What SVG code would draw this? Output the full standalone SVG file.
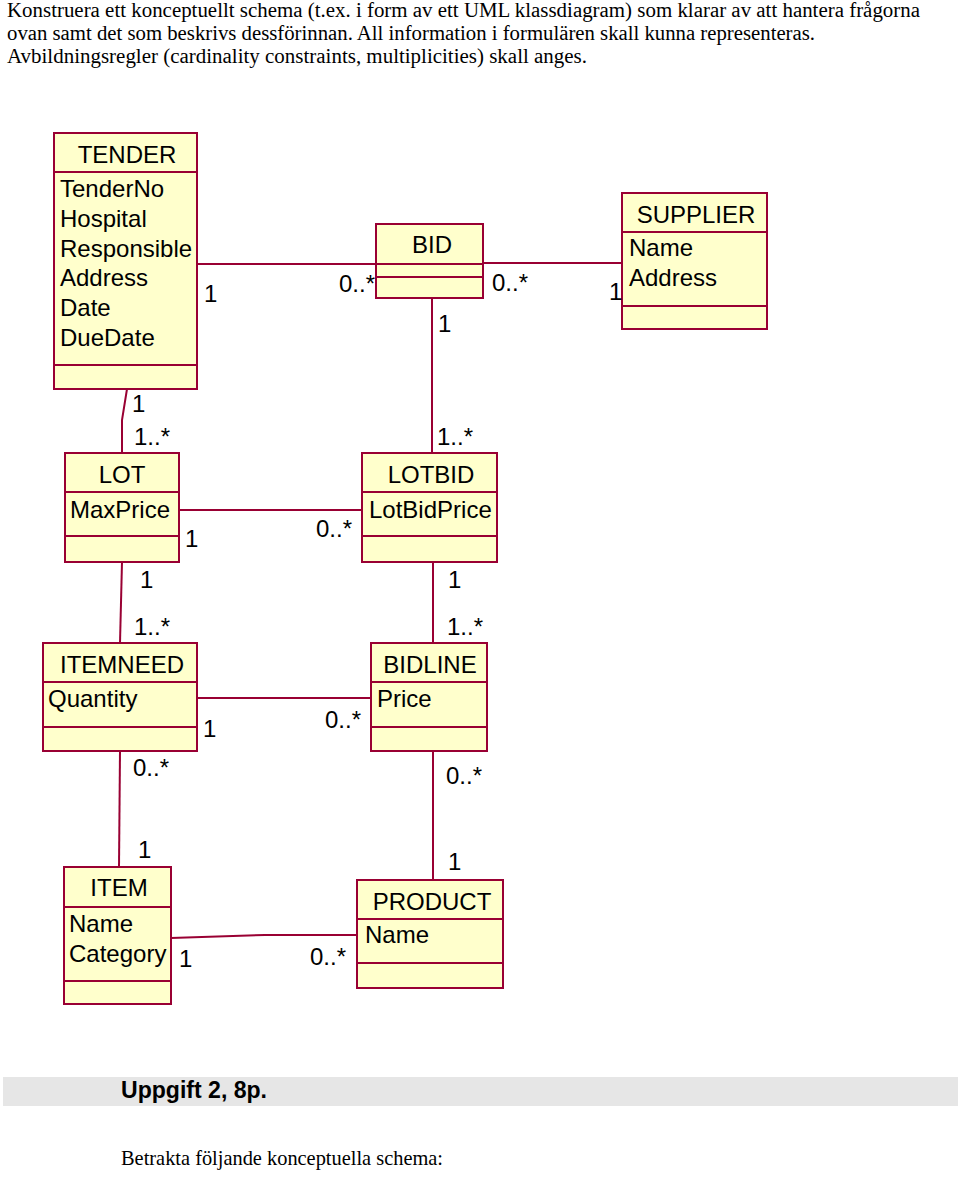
<svg xmlns="http://www.w3.org/2000/svg" width="960" height="1177" viewBox="0 0 960 1177">
<style>
.box{fill:#ffffcc;stroke:#990033;stroke-width:2}
.sep{stroke:#990033;stroke-width:2}
.con{fill:none;stroke:#990033;stroke-width:2}
.t{font-family:"Liberation Sans",Arial,sans-serif;font-size:24px;fill:#000}
.c{text-anchor:middle}
.m{font-family:"Liberation Sans",Arial,sans-serif;font-size:24px;fill:#000}
.ser{font-family:"Liberation Serif","Times New Roman",serif;font-size:20px;fill:#000}
</style>
<rect width="960" height="1177" fill="#ffffff"/>
<g id="intro">
<text class="ser" x="7" y="17" textLength="913" lengthAdjust="spacingAndGlyphs">Konstruera ett konceptuellt schema (t.ex. i form av ett UML klassdiagram) som klarar av att hantera frågorna</text>
<text class="ser" x="7" y="40" textLength="808" lengthAdjust="spacingAndGlyphs">ovan samt det som beskrivs dessförinnan. All information i formulären skall kunna representeras.</text>
<text class="ser" x="7" y="63" textLength="580" lengthAdjust="spacingAndGlyphs">Avbildningsregler (cardinality constraints, multiplicities) skall anges.</text>
</g>
<g id="connectors">
<path class="con" d="M197 264 H376"/>
<path class="con" d="M483 263 H622"/>
<path class="con" d="M432 298 V453"/>
<path class="con" d="M127 389 L122 420 V453"/>
<path class="con" d="M179 510 H362"/>
<path class="con" d="M433 562 V643"/>
<path class="con" d="M122 562 L120 643"/>
<path class="con" d="M197 698 H371"/>
<path class="con" d="M120 751 L119 867"/>
<path class="con" d="M433 751 V880"/>
<path class="con" d="M171 938 L265 935 H357"/>
</g>
<g id="TENDER">
<rect class="box" x="54" y="133" width="143" height="256"/>
<line class="sep" x1="54" y1="172" x2="197" y2="172"/>
<line class="sep" x1="54" y1="365" x2="197" y2="365"/>
<text class="t c" x="127" y="163">TENDER</text>
<text class="t" x="60" y="197">TenderNo</text>
<text class="t" x="60" y="227">Hospital</text>
<text class="t" x="60" y="257">Responsible</text>
<text class="t" x="60" y="286">Address</text>
<text class="t" x="60" y="316">Date</text>
<text class="t" x="60" y="346">DueDate</text>
</g>
<g id="BID">
<rect class="box" x="376" y="224" width="107" height="74"/>
<line class="sep" x1="376" y1="264" x2="483" y2="264"/>
<line class="sep" x1="376" y1="277" x2="483" y2="277"/>
<text class="t c" x="432" y="253">BID</text>
</g>
<g id="SUPPLIER">
<rect class="box" x="622" y="193" width="145" height="136"/>
<line class="sep" x1="622" y1="232" x2="767" y2="232"/>
<line class="sep" x1="622" y1="306" x2="767" y2="306"/>
<text class="t c" x="696" y="223">SUPPLIER</text>
<text class="t" x="629" y="256">Name</text>
<text class="t" x="629" y="286">Address</text>
</g>
<g id="LOT">
<rect class="box" x="65" y="453" width="114" height="109"/>
<line class="sep" x1="65" y1="492" x2="179" y2="492"/>
<line class="sep" x1="65" y1="536" x2="179" y2="536"/>
<text class="t c" x="122" y="483">LOT</text>
<text class="t" x="70" y="518">MaxPrice</text>
</g>
<g id="LOTBID">
<rect class="box" x="362" y="453" width="135" height="109"/>
<line class="sep" x1="362" y1="492" x2="497" y2="492"/>
<line class="sep" x1="362" y1="536" x2="497" y2="536"/>
<text class="t c" x="431" y="483">LOTBID</text>
<text class="t" x="369" y="518">LotBidPrice</text>
</g>
<g id="ITEMNEED">
<rect class="box" x="43" y="643" width="154" height="108"/>
<line class="sep" x1="43" y1="682" x2="197" y2="682"/>
<line class="sep" x1="43" y1="727" x2="197" y2="727"/>
<text class="t c" x="122" y="673">ITEMNEED</text>
<text class="t" x="48" y="707">Quantity</text>
</g>
<g id="BIDLINE">
<rect class="box" x="371" y="643" width="116" height="108"/>
<line class="sep" x1="371" y1="682" x2="487" y2="682"/>
<line class="sep" x1="371" y1="727" x2="487" y2="727"/>
<text class="t c" x="430" y="673">BIDLINE</text>
<text class="t" x="377" y="707">Price</text>
</g>
<g id="ITEM">
<rect class="box" x="64" y="867" width="107" height="137"/>
<line class="sep" x1="64" y1="907" x2="171" y2="907"/>
<line class="sep" x1="64" y1="981" x2="171" y2="981"/>
<text class="t c" x="119" y="896">ITEM</text>
<text class="t" x="69" y="932">Name</text>
<text class="t" x="69" y="962">Category</text>
</g>
<g id="PRODUCT">
<rect class="box" x="357" y="880" width="146" height="108"/>
<line class="sep" x1="357" y1="919" x2="503" y2="919"/>
<line class="sep" x1="357" y1="963" x2="503" y2="963"/>
<text class="t c" x="432" y="910">PRODUCT</text>
<text class="t" x="365" y="943">Name</text>
</g>
<g id="multiplicities">
<text class="m" x="204" y="302">1</text>
<text class="m" x="339" y="292">0..*</text>
<text class="m" x="492" y="291">0..*</text>
<text class="m" x="609" y="300">1</text>
<text class="m" x="438" y="332">1</text>
<text class="m" x="132" y="412">1</text>
<text class="m" x="134" y="445">1..*</text>
<text class="m" x="437" y="445">1..*</text>
<text class="m" x="185" y="547">1</text>
<text class="m" x="316" y="537">0..*</text>
<text class="m" x="140" y="588">1</text>
<text class="m" x="448" y="588">1</text>
<text class="m" x="134" y="635">1..*</text>
<text class="m" x="447" y="635">1..*</text>
<text class="m" x="203" y="737">1</text>
<text class="m" x="325" y="728">0..*</text>
<text class="m" x="133" y="776">0..*</text>
<text class="m" x="446" y="784">0..*</text>
<text class="m" x="138" y="858">1</text>
<text class="m" x="448" y="870">1</text>
<text class="m" x="179" y="967">1</text>
<text class="m" x="310" y="965">0..*</text>
</g>
<g id="footer">
<rect x="3" y="1077" width="955" height="29" fill="#e6e6e6"/>
<text x="121" y="1098" font-family="'Liberation Sans',Arial,sans-serif" font-size="24" font-weight="bold" textLength="146" lengthAdjust="spacingAndGlyphs" fill="#000">Uppgift 2, 8p.</text>
<text x="121" y="1165" font-family="'Liberation Serif','Times New Roman',serif" font-size="21" textLength="322" lengthAdjust="spacingAndGlyphs" fill="#000">Betrakta följande konceptuella schema:</text>
</g>
</svg>
